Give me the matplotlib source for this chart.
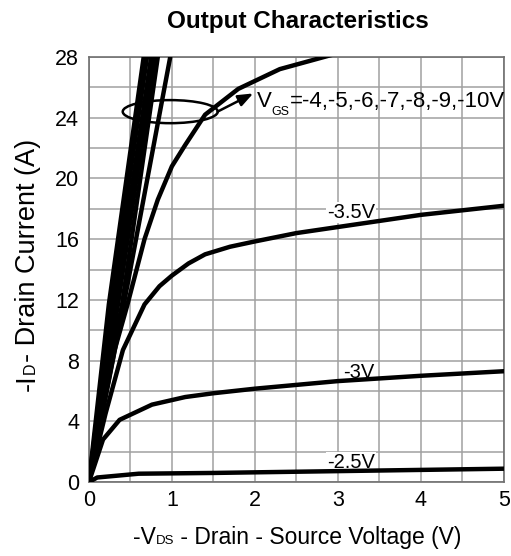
import matplotlib
matplotlib.use("Agg")
import matplotlib.pyplot as plt
from matplotlib.patches import Ellipse
from matplotlib.transforms import IdentityTransform
from matplotlib.ticker import MultipleLocator

plt.rcParams["font.family"] = ["Liberation Sans", "DejaVu Sans"]

# -VDS (V) vs -ID (A) for each gate voltage
vds_25 = [0, 0.1, 0.6, 1.5, 3.0, 5.0]
id_25 = [0, 0.3, 0.55, 0.6, 0.72, 0.88]

vds_30 = [0, 0.17, 0.37, 0.76, 1.16, 1.5, 2.0, 3.0, 4.0, 5.0]
id_30 = [0, 2.8, 4.1, 5.1, 5.6, 5.85, 6.15, 6.65, 7.0, 7.3]

vds_35 = [0, 0.2, 0.41, 0.67, 0.85, 1.0, 1.2, 1.4, 1.7, 2.0, 2.5, 3.0, 4.0, 5.0]
id_35 = [0, 4.5, 8.7, 11.7, 12.9, 13.6, 14.4, 15.0, 15.5, 15.85, 16.4, 16.8, 17.6, 18.2]

vds_40 = [0, 0.15, 0.31, 0.46, 0.67, 0.83, 1.0, 1.16, 1.4, 1.8, 2.3, 2.9, 3.2]
id_40 = [0, 4.3, 8.7, 11.6, 16.0, 18.6, 20.8, 22.2, 24.2, 25.9, 27.2, 28.1, 28.5]

vds_50 = [0, 0.42, 0.98, 1.05]
id_50 = [0, 11.7, 28.0, 30.0]
vds_60 = [0, 0.2, 0.4, 0.83, 0.88]
id_60 = [0, 6.3, 11.7, 28.0, 30.0]
vds_70 = [0, 0.35, 0.79, 0.84]
id_70 = [0, 11.7, 28.0, 30.0]
vds_80 = [0, 0.31, 0.75, 0.80]
id_80 = [0, 11.7, 28.0, 30.0]
vds_90 = [0, 0.27, 0.70, 0.75]
id_90 = [0, 11.7, 28.0, 30.0]
vds_100 = [0, 0.24, 0.66, 0.71]
id_100 = [0, 11.7, 28.0, 30.0]

curves = [
    (vds_25, id_25), (vds_30, id_30), (vds_35, id_35), (vds_40, id_40),
    (vds_50, id_50), (vds_60, id_60), (vds_70, id_70), (vds_80, id_80),
    (vds_90, id_90), (vds_100, id_100),
]

# curve labels: text, x, baseline y
curve_labels = [("-3.5V", 2.87, 17.4), ("-3V", 3.06, 6.85), ("-2.5V", 2.87, 0.92)]

fig = plt.figure(figsize=(5.11, 5.56), dpi=100)
ax = fig.add_axes([0.174, 0.133, 0.812, 0.7645])

for x, y in curves:
    ax.plot(x, y, color="black", lw=3.2, solid_joinstyle="round", zorder=3)

for txt, x, y in curve_labels:
    ax.text(x, y, txt, fontsize=14.5, va="baseline", ha="left", zorder=2.5,
            bbox=dict(fc="white", ec="none", pad=0.5))

ax.set_xlim(0, 5)
ax.set_ylim(0, 28)
ax.xaxis.set_major_locator(MultipleLocator(1))
ax.xaxis.set_minor_locator(MultipleLocator(0.5))
ax.yaxis.set_major_locator(MultipleLocator(4))
ax.yaxis.set_minor_locator(MultipleLocator(2))
ax.grid(which="both", color="#a0a0a0", lw=1.1, zorder=1)
ax.set_axisbelow(True)
ax.tick_params(which="both", length=0, labelsize=15.5)
ax.tick_params(axis="y", pad=7)
ax.tick_params(axis="x", pad=6)
for s in ax.spines.values():
    s.set_color("#707070")
    s.set_linewidth(1.2)

# gate voltage group marker
ax.add_patch(Ellipse((0.98, 24.4), 1.145, 1.52, fill=False, ec="black", lw=1.8, zorder=4))
ax.annotate("", xy=(1.98, 25.6), xytext=(1.55, 24.4),
            arrowprops=dict(arrowstyle="-|>,head_length=0.9,head_width=0.35",
                            color="black", lw=1.8, shrinkA=0, shrinkB=0), zorder=4)

fig.suptitle("Output Characteristics", fontsize=17.5, fontweight="bold", x=0.583, y=0.982)

# multi-size labels placed piece by piece in pixel coordinates
renderer = fig.canvas.get_renderer()


def draw_pieces(pieces, x, y, rotation=0, center=False):
    texts = []
    for text, size, dy in pieces:
        if rotation:
            t = fig.text(x - dy, y, text, fontsize=size, rotation=90, rotation_mode="anchor",
                         ha="left", va="baseline", transform=IdentityTransform())
            step = t.get_window_extent(renderer).height
            y += step
        else:
            t = fig.text(x, y + dy, text, fontsize=size, ha="left", va="baseline",
                         transform=IdentityTransform())
            step = t.get_window_extent(renderer).width
            x += step
        texts.append((t, step))
    if center:
        total = sum(s for _, s in texts)
        for t, _ in texts:
            px, py = t.get_position()
            if rotation:
                t.set_position((px, py - total / 2))
            else:
                t.set_position((px - total / 2, py))


draw_pieces([("-V", 16.5, 0), ("DS", 9.5, 0), (" - Drain - Source Voltage (V)", 16.5, 0)],
            297, 12, center=True)
draw_pieces([("-I", 19.5, 0), ("D", 11.5, 0), ("- Drain Current (A)", 19.5, 0)],
            35, 291, rotation=90, center=True)
draw_pieces([("V", 16, 0), ("GS", 9, -8), ("=-4,-5,-6,-7,-8,-9,-10V", 16, 0)], 257, 449)

fig.savefig("out.png", dpi=100)
